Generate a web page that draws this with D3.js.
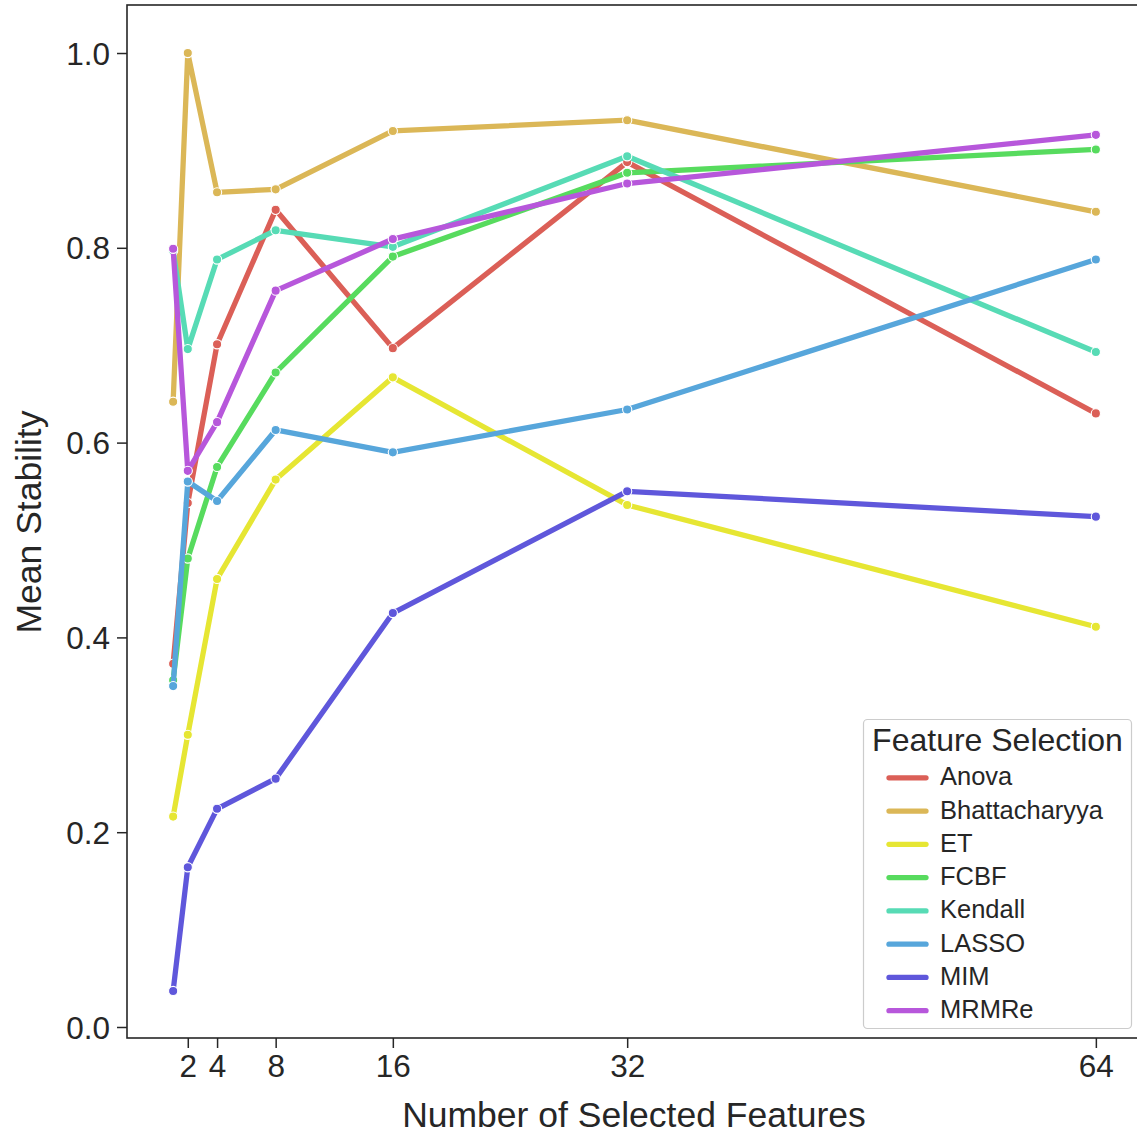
<!DOCTYPE html>
<html><head><meta charset="utf-8">
<script src="https://cdn.jsdelivr.net/npm/d3@7"></script>
<style>body{margin:0;background:#fff}svg{display:block}text{font-family:"Liberation Sans",Arial,sans-serif;fill:#262626}</style>
</head><body>
<svg id="c" width="1137" height="1135"></svg>
<script>
const xValues = [1, 2, 4, 8, 16, 32, 64];
const xTicks = [2, 4, 8, 16, 32, 64];
const yTicks = [0.0, 0.2, 0.4, 0.6, 0.8, 1.0];
const methods = ["Anova","Bhattacharyya","ET","FCBF","Kendall","LASSO","MIM","MRMRe"];
const colors = ["#db5f57","#dbb757","#e6e633","#57db5e","#57dbb5","#57a6db","#5f57db","#b757db"];
const anova         = [0.373, 0.538, 0.701, 0.839, 0.697, 0.888, 0.630];
const bhattacharyya = [0.642, 1.000, 0.857, 0.860, 0.920, 0.931, 0.837];
const et            = [0.216, 0.300, 0.460, 0.562, 0.667, 0.536, 0.411];
const fcbf          = [0.356, 0.481, 0.575, 0.672, 0.791, 0.877, 0.901];
const kendall       = [0.797, 0.696, 0.788, 0.818, 0.801, 0.894, 0.693];
const lasso         = [0.350, 0.560, 0.540, 0.613, 0.590, 0.634, 0.788];
const mim           = [0.037, 0.164, 0.224, 0.255, 0.425, 0.550, 0.524];
const mrmre         = [0.799, 0.571, 0.621, 0.756, 0.809, 0.866, 0.916];
const seriesValues = [anova, bhattacharyya, et, fcbf, kendall, lasso, mim, mrmre];

const FONT = '"Liberation Sans",Arial,sans-serif';
const svg = d3.select("#c");
const L = 127, R = 1142, T = 5, B = 1038;
const x = d3.scaleLinear().domain([-2.15, 67.15]).range([L, R]);
const y = d3.scaleLinear().domain([-0.0113, 1.0493]).range([B, T]);

const g = svg.append("g");
const line = d3.line().x(d => x(d[0])).y(d => y(d[1]));
methods.forEach((m, i) => {
  const pts = xValues.map((v, j) => [v, seriesValues[i][j]]);
  const sg = g.append("g");
  sg.append("path").attr("d", line(pts)).attr("fill", "none")
    .attr("stroke", colors[i]).attr("stroke-width", 5.3)
    .attr("stroke-linejoin", "round").attr("stroke-linecap", "butt");
  sg.selectAll("circle").data(pts).join("circle")
    .attr("cx", d => x(d[0])).attr("cy", d => y(d[1])).attr("r", 4.6)
    .attr("fill", colors[i]).attr("stroke", "#fff").attr("stroke-width", 1.1);
});

// spines
svg.append("rect").attr("x", L).attr("y", T).attr("width", R - L).attr("height", B - T)
  .attr("fill", "none").attr("stroke", "#262626").attr("stroke-width", 1.6);

// y axis
const ya = svg.append("g").attr("transform", `translate(${L},0)`)
  .call(d3.axisLeft(y).tickValues(yTicks).tickFormat(d3.format(".1f")).tickSize(10).tickPadding(7));
ya.select(".domain").remove();
ya.selectAll("line").attr("stroke", "#262626").attr("stroke-width", 1.5);
ya.selectAll("text").attr("font-size", 31.5).attr("fill", "#262626").attr("dy", "0.35em")
  .style("font-family", FONT);

// x axis
const xa = svg.append("g").attr("transform", `translate(0,${B})`)
  .call(d3.axisBottom(x).tickValues(xTicks).tickFormat(d3.format("d")).tickSize(10).tickPadding(7));
xa.select(".domain").remove();
xa.selectAll("line").attr("stroke", "#262626").attr("stroke-width", 1.5);
xa.selectAll("text").attr("font-size", 31.5).attr("fill", "#262626")
  .style("font-family", FONT);

svg.append("text").attr("x", 634).attr("y", 1127).attr("text-anchor", "middle")
  .attr("font-size", 35.5).text("Number of Selected Features");
svg.append("text").attr("transform", "translate(41,522) rotate(-90)").attr("text-anchor", "middle")
  .attr("font-size", 35.5).text("Mean Stability");

// legend
const lg = svg.append("g");
lg.append("rect").attr("x", 863.5).attr("y", 719.5).attr("width", 268).attr("height", 309).attr("rx", 4)
  .attr("fill", "#fff").attr("fill-opacity", 0.85).attr("stroke", "#cccccc").attr("stroke-width", 1.2);
lg.append("text").attr("x", 997.5).attr("y", 751).attr("text-anchor", "middle").attr("font-size", 32)
  .text("Feature Selection");
methods.forEach((m, i) => {
  const yy = 777.8 + i * 33.27;
  lg.append("line").attr("x1", 889).attr("x2", 926).attr("y1", yy).attr("y2", yy)
    .attr("stroke", colors[i]).attr("stroke-width", 5.3).attr("stroke-linecap", "round");
  lg.append("text").attr("x", 940).attr("y", yy + 7.5).attr("font-size", 25.5).text(m);
});
</script>
</body></html>
